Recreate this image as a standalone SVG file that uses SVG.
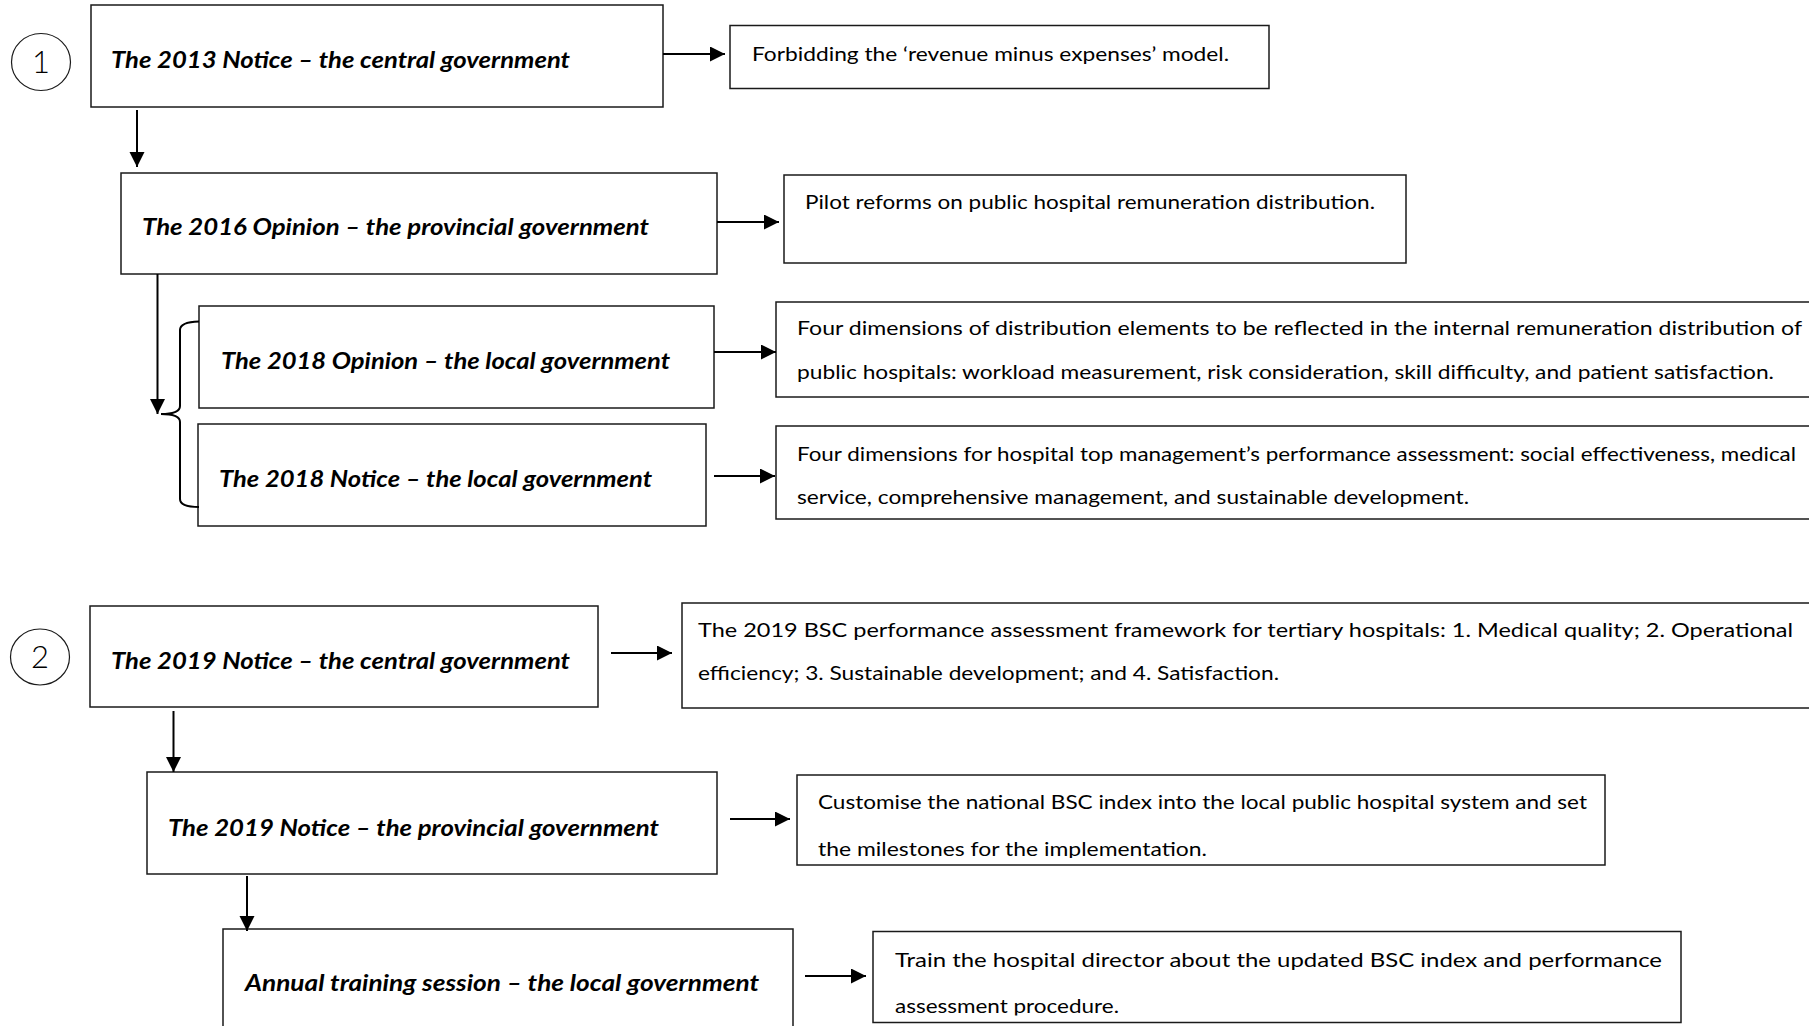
<svg xmlns="http://www.w3.org/2000/svg" width="1809" height="1026" viewBox="0 0 1809 1026">
<style>
  .box { fill: #ffffff; stroke: #1a1a1a; stroke-width: 1.5; }
  .title { font-family: Lato, "Open Sans", "Liberation Sans", sans-serif; font-weight: bold; font-style: italic; font-size: 22px; fill: #000; }
  .body { font-family: Lato, "Open Sans", "Liberation Sans", sans-serif; font-size: 20px; fill: #000; }
  .num { font-family: Lato, "Open Sans", "Liberation Sans", sans-serif; font-weight: 300; font-size: 31px; fill: #000; }
  .circ { fill: none; stroke: #1a1a1a; stroke-width: 1.2; }
  .conn { fill: none; stroke: #000; stroke-width: 2; }
</style>
<defs>
  <marker id="arrow" markerUnits="userSpaceOnUse" markerWidth="16" markerHeight="16" refX="15" refY="7.5" orient="auto">
    <path d="M0,0 L15,7.5 L0,15 Z" fill="#000"/>
  </marker>
  <clipPath id="clipCustom"><rect x="797" y="775" width="808" height="83"/></clipPath>
  <clipPath id="clipTrain"><rect x="873" y="931.5" width="808" height="84"/></clipPath>
</defs>
<rect width="1809" height="1026" fill="#ffffff"/>

<!-- Section markers -->
<g id="marker1">
  <ellipse class="circ" cx="41" cy="62" rx="29.5" ry="28.5"/>
  <text class="num" x="41" y="73" text-anchor="middle">1</text>
</g>
<g id="marker2">
  <ellipse class="circ" cx="40" cy="657" rx="29.5" ry="28"/>
  <text class="num" x="40" y="668" text-anchor="middle">2</text>
</g>

<!-- Section 1 left nodes -->
<g id="n2013notice">
  <rect class="box" x="91" y="5" width="572" height="102"/>
  <text class="title" x="111" y="68" textLength="459" lengthAdjust="spacingAndGlyphs">The 2013 Notice – the central government</text>
</g>
<g id="n2016opinion">
  <rect class="box" x="121" y="173" width="596" height="101"/>
  <text class="title" x="142" y="235" textLength="507" lengthAdjust="spacingAndGlyphs">The 2016 Opinion – the provincial government</text>
</g>
<g id="n2018opinion">
  <rect class="box" x="199" y="306" width="515" height="102"/>
  <text class="title" x="221" y="369" textLength="449" lengthAdjust="spacingAndGlyphs">The 2018 Opinion – the local government</text>
</g>
<g id="n2018notice">
  <rect class="box" x="198" y="424" width="508" height="102"/>
  <text class="title" x="219" y="487" textLength="433" lengthAdjust="spacingAndGlyphs">The 2018 Notice – the local government</text>
</g>

<!-- Section 1 right nodes -->
<g id="rForbidding">
  <rect class="box" x="730" y="25.5" width="539" height="63"/>
  <text class="body" x="752" y="61" textLength="477" lengthAdjust="spacingAndGlyphs">Forbidding the ‘revenue minus expenses’ model.</text>
</g>
<g id="rPilot">
  <rect class="box" x="784" y="175" width="622" height="88"/>
  <text class="body" x="805" y="209" textLength="570" lengthAdjust="spacingAndGlyphs">Pilot reforms on public hospital remuneration distribution.</text>
</g>
<g id="rFour1">
  <rect class="box" x="776" y="302" width="1045" height="95"/>
  <text class="body" x="797" y="335" textLength="1005" lengthAdjust="spacingAndGlyphs">Four dimensions of distribution elements to be reflected in the internal remuneration distribution of</text>
  <text class="body" x="797" y="379" textLength="977" lengthAdjust="spacingAndGlyphs">public hospitals: workload measurement, risk consideration, skill difficulty, and patient satisfaction.</text>
</g>
<g id="rFour2">
  <rect class="box" x="776" y="426" width="1045" height="93"/>
  <text class="body" x="797" y="461" textLength="999" lengthAdjust="spacingAndGlyphs">Four dimensions for hospital top management’s performance assessment: social effectiveness, medical</text>
  <text class="body" x="797" y="504" textLength="672" lengthAdjust="spacingAndGlyphs">service, comprehensive management, and sustainable development.</text>
</g>

<!-- Section 2 left nodes -->
<g id="n2019central">
  <rect class="box" x="90" y="606" width="508" height="101"/>
  <text class="title" x="111" y="669" textLength="459" lengthAdjust="spacingAndGlyphs">The 2019 Notice – the central government</text>
</g>
<g id="n2019provincial">
  <rect class="box" x="147" y="772" width="570" height="102"/>
  <text class="title" x="168" y="836" textLength="491" lengthAdjust="spacingAndGlyphs">The 2019 Notice – the provincial government</text>
</g>
<g id="nAnnual">
  <rect class="box" x="223" y="929" width="570" height="110"/>
  <text class="title" x="245" y="991" textLength="514" lengthAdjust="spacingAndGlyphs">Annual training session – the local government</text>
</g>

<!-- Section 2 right nodes -->
<g id="rBSC">
  <rect class="box" x="682" y="603" width="1140" height="105"/>
  <text class="body" x="698" y="637" textLength="1095" lengthAdjust="spacingAndGlyphs">The 2019 BSC performance assessment framework for tertiary hospitals: 1. Medical quality; 2. Operational</text>
  <text class="body" x="698" y="680" textLength="581" lengthAdjust="spacingAndGlyphs">efficiency; 3. Sustainable development; and 4. Satisfaction.</text>
</g>
<g id="rCustomise">
  <rect class="box" x="797" y="775" width="808" height="90"/>
  <g clip-path="url(#clipCustom)">
    <text class="body" x="818" y="809" textLength="769" lengthAdjust="spacingAndGlyphs">Customise the national BSC index into the local public hospital system and set</text>
    <text class="body" x="818" y="856" textLength="389" lengthAdjust="spacingAndGlyphs">the milestones for the implementation.</text>
  </g>
</g>
<g id="rTrain">
  <rect class="box" x="873" y="931.5" width="808" height="91"/>
  <g clip-path="url(#clipTrain)">
    <text class="body" x="895" y="967" textLength="767" lengthAdjust="spacingAndGlyphs">Train the hospital director about the updated BSC index and performance</text>
    <text class="body" x="895" y="1013" textLength="224" lengthAdjust="spacingAndGlyphs">assessment procedure.</text>
  </g>
</g>

<!-- Connectors -->
<g id="connectors">
  <path class="conn" d="M663,54 H725" marker-end="url(#arrow)"/>
  <path class="conn" d="M137,110 V167" marker-end="url(#arrow)"/>
  <path class="conn" d="M717,222 H779" marker-end="url(#arrow)"/>
  <path class="conn" d="M157.5,274 V414" marker-end="url(#arrow)"/>
  <path class="conn" d="M199,321.5 Q180,322 180,330 L180,406 Q180,414 161,414 Q180,414 180,422 L180,499 Q180,507 199,507"/>
  <path class="conn" d="M714,352 H776" marker-end="url(#arrow)"/>
  <path class="conn" d="M714,476 H775" marker-end="url(#arrow)"/>
  <path class="conn" d="M611,653 H672" marker-end="url(#arrow)"/>
  <path class="conn" d="M173.5,711 V772" marker-end="url(#arrow)"/>
  <path class="conn" d="M730,819 H790" marker-end="url(#arrow)"/>
  <path class="conn" d="M247,876 V931" marker-end="url(#arrow)"/>
  <path class="conn" d="M805,976 H866" marker-end="url(#arrow)"/>
</g>
</svg>
